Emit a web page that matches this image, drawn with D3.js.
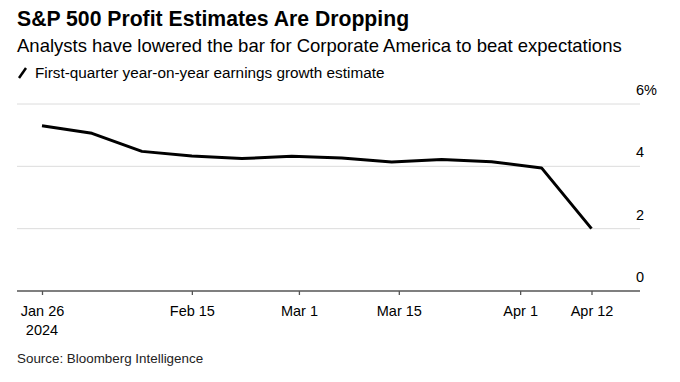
<!DOCTYPE html>
<html>
<head>
<meta charset="utf-8">
<script src="https://cdn.jsdelivr.net/npm/d3@7"></script>
<style>
  body { margin: 0; background: #fff; }
  text { font-family: "Liberation Sans", Arial, sans-serif; }
</style>
</head>
<body>
<div id="container"></div>
<script>
/**
 * CONSTANTS AND GLOBALS
 * */
const width = 680,
  height = 382,
  margin = {top: 104, bottom: 91, left: 17, right: 40};

// weekly estimate dates (Fridays) and values, %
const dates = ["2024-01-26", "2024-02-02", "2024-02-09", "2024-02-16", "2024-02-23", "2024-03-01",
  "2024-03-08", "2024-03-15", "2024-03-22", "2024-03-29", "2024-04-05", "2024-04-12"];
const values = [5.30, 5.06, 4.48, 4.33, 4.25, 4.32, 4.27, 4.14, 4.22, 4.15, 3.95, 2.0];

const yTicks = [0, 2, 4, 6];
const xTickDates = ["2024-01-26", "2024-02-15", "2024-03-01", "2024-03-15", "2024-04-01", "2024-04-12"];
const xTickLabels = ["Jan 26", "Feb 15", "Mar 1", "Mar 15", "Apr 1", "Apr 12"];

const parse = d3.timeParse("%Y-%m-%d");
const data = dates.map((d, i) => ({date: parse(d), value: values[i]}));

/**
 * INIT
 * */
const svg = d3.select("#container")
  .append("svg")
  .attr("width", width)
  .attr("height", height);

// titles
svg.append("text")
  .attr("x", 17).attr("y", 26)
  .attr("font-size", 21.2).attr("font-weight", "bold")
  .attr("fill", "#000")
  .text("S&P 500 Profit Estimates Are Dropping");

svg.append("text")
  .attr("x", 17).attr("y", 52)
  .attr("font-size", 18.5)
  .attr("fill", "#000")
  .text("Analysts have lowered the bar for Corporate America to beat expectations");

// legend
svg.append("line")
  .attr("x1", 19).attr("y1", 78).attr("x2", 26).attr("y2", 68)
  .attr("stroke", "#000").attr("stroke-width", 2.5);
svg.append("text")
  .attr("x", 35).attr("y", 78)
  .attr("font-size", 15.3)
  .attr("fill", "#000")
  .text("First-quarter year-on-year earnings growth estimate");

const plotRight = width - margin.right;

const x = d3.scaleTime()
  .domain(d3.extent(data, d => d.date))
  .range([42, 591.5]);

const y = d3.scaleLinear()
  .domain([0, 6])
  .range([height - margin.bottom, margin.top]);

// gridlines + y labels
const grid = svg.append("g");
grid.selectAll("line")
  .data(yTicks.filter(d => d > 0))
  .join("line")
  .attr("x1", margin.left).attr("x2", plotRight)
  .attr("y1", d => y(d)).attr("y2", d => y(d))
  .attr("stroke", "#dcdcdc").attr("stroke-width", 1);

grid.selectAll("text")
  .data(yTicks)
  .join("text")
  .attr("x", 636)
  .attr("y", d => y(d) - 9)
  .attr("font-size", 14.5)
  .attr("fill", "#000")
  .text(d => d === 6 ? d + "%" : d);

// x axis: middle ticks sit at the end of their day, like the original
const tickPos = xTickDates.map((d, i) => {
  const t = parse(d);
  return (i === 0 || i === xTickDates.length - 1) ? t : d3.timeDay.offset(t, 1);
});

const xAxis = d3.axisBottom(x)
  .tickValues(tickPos)
  .tickSize(4)
  .tickSizeOuter(0)
  .tickFormat((d, i) => xTickLabels[i]);

const gx = svg.append("g")
  .attr("transform", `translate(0,${y(0)})`)
  .call(xAxis);

gx.select(".domain").remove();
gx.append("line")
  .attr("x1", margin.left).attr("x2", plotRight)
  .attr("stroke", "#555").attr("stroke-width", 1.3);
gx.selectAll(".tick line").attr("stroke", "#555").attr("stroke-width", 1.3);
gx.selectAll(".tick text")
  .attr("font-family", "Liberation Sans, Arial, sans-serif")
  .attr("font-size", 14.5)
  .attr("fill", "#000")
  .attr("dy", 0)
  .attr("y", 25);

gx.append("text")
  .attr("x", x(data[0].date))
  .attr("y", 44)
  .attr("text-anchor", "middle")
  .attr("font-size", 14.5)
  .attr("fill", "#000")
  .text("2024");

// line
svg.append("path")
  .datum(data)
  .attr("fill", "none")
  .attr("stroke", "#000")
  .attr("stroke-width", 3)
  .attr("stroke-linejoin", "round")
  .attr("d", d3.line().x(d => x(d.date)).y(d => y(d.value)));

// source
svg.append("text")
  .attr("x", 17).attr("y", 363)
  .attr("font-size", 13.4)
  .attr("fill", "#222")
  .text("Source: Bloomberg Intelligence");
</script>
</body>
</html>
